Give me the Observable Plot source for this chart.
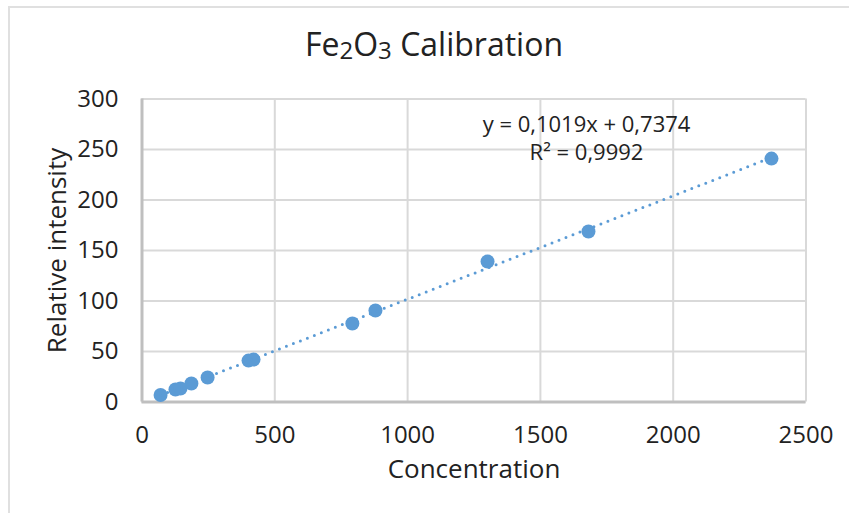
<!DOCTYPE html>
<html>
<head>
<meta charset="utf-8">
<script src="https://cdn.jsdelivr.net/npm/d3@7"></script>
<script src="https://cdn.jsdelivr.net/npm/@observablehq/plot@0.6"></script>
<style>
  html, body { margin: 0; padding: 0; background: #fff; overflow: hidden; }
  #wrap { position: relative; width: 849px; height: 513px; font-family: "Open Sans", sans-serif; }
  #frame { position: absolute; left: 8px; top: 6px; width: 900px; height: 600px; border: 2px solid #e0e0e0; box-sizing: border-box; pointer-events: none; }
  #title { height: 80px; box-sizing: border-box; padding-top: 22px; width: 868px; text-align: center; font-size: 32px; line-height: 44px; color: #222; white-space: nowrap; }
  #title sub { font-size: 24px; vertical-align: baseline; position: relative; top: 3px; }
</style>
</head>
<body>
<div id="wrap">
  <div id="frame"></div>
  <div id="title"></div>
  <div id="chart"></div>
</div>
<script>
// Data
const concentration = [70, 126, 145, 186, 247, 401, 420, 792, 879, 1301, 1681, 2370];
const intensity     = [7, 12.4, 13.4, 18.3, 24.3, 41, 42, 77.7, 90.6, 139.1, 168.8, 241];
const xTicks = [0, 500, 1000, 1500, 2000, 2500];
const yTicks = [0, 50, 100, 150, 200, 250, 300];
const titleParts = ["Fe", "2", "O", "3", "Calibration"];
const xLabel = "Concentration";
const yLabel = "Relative intensity";
const equationLines = ["y = 0,1019x + 0,7374", "R² = 0,9992"];

const data = concentration.map((c, i) => ({x: c, y: intensity[i]}));

document.getElementById("title").innerHTML =
  `${titleParts[0]}<sub>${titleParts[1]}</sub>${titleParts[2]}<sub>${titleParts[3]}</sub> ${titleParts[4]}`;

const blue = "#5B9BD5";
const fmt = d => String(d);
const chart = Plot.plot({
  width: 849,
  height: 433,
  marginLeft: 141.5,
  marginRight: 43.5,
  marginTop: 18.5,
  marginBottom: 111.5,
  style: {fontFamily: "'Open Sans', sans-serif", fontSize: "24px", color: "#222", background: "transparent", overflow: "visible"},
  x: {domain: [0, 2500], ticks: xTicks},
  y: {domain: [0, 300], ticks: yTicks},
  marks: [
    Plot.gridX(xTicks, {stroke: "#d9d9d9", strokeOpacity: 1, strokeWidth: 2}),
    Plot.gridY(yTicks, {stroke: "#d9d9d9", strokeOpacity: 1, strokeWidth: 2}),
    Plot.ruleX([0], {stroke: "#bfbfbf", strokeWidth: 3}),
    Plot.ruleY([0], {stroke: "#bfbfbf", strokeWidth: 3}),
    Plot.axisX(xTicks, {tickSize: 0, tickPadding: 23.5, label: null, fontSize: 24, tickFormat: fmt}),
    Plot.axisY(yTicks, {tickSize: 0, tickPadding: 23.5, label: null, fontSize: 24, tickFormat: fmt}),
    Plot.dot(data, {x: "x", y: "y", r: 7, fill: blue, stroke: "none"}),
    Plot.linearRegressionY(data, {x: "x", y: "y", ci: 0, stroke: blue, strokeWidth: 3, strokeDasharray: "0 7.5", strokeLinecap: "round"}),
    Plot.text([equationLines[0]], {text: d => d, frameAnchor: "top-left", dx: 444.5, dy: 17.5, lineAnchor: "top", textAnchor: "middle", fontSize: 22, fill: "#222"}),
    Plot.text([equationLines[1]], {text: d => d, frameAnchor: "top-left", dx: 444.5, dy: 45, lineAnchor: "top", textAnchor: "middle", fontSize: 22, fill: "#222"}),
    Plot.text([xLabel], {text: d => d, frameAnchor: "bottom", dy: 57.5, lineAnchor: "top", textAnchor: "middle", fontSize: 26, fill: "#222"}),
    Plot.text([yLabel], {text: d => d, frameAnchor: "left", dx: -94.5, rotate: -90, lineAnchor: "top", textAnchor: "middle", fontSize: 26, fill: "#222"})
  ]
});
document.getElementById("chart").appendChild(chart);
</script>
</body>
</html>
